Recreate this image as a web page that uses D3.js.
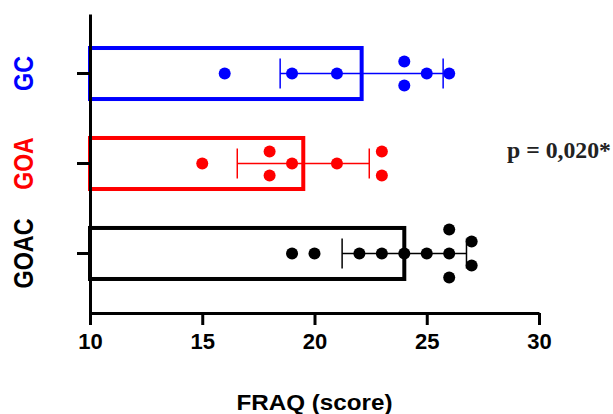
<!DOCTYPE html>
<html>
<head>
<meta charset="utf-8">
<script src="https://cdn.jsdelivr.net/npm/d3@7"></script>
<style>
  body { margin: 0; background: #fff; }
  text { font-family: "Liberation Sans", Arial, sans-serif; font-weight: bold; }
</style>
</head>
<body>
<svg width="613" height="414"></svg>
<script>
const groups = ["GC", "GOA", "GOAC"];
const colors = ["#0000ff", "#ff0000", "#000000"];
const means = [22.1, 19.5, 24.0];
const sds = [3.63, 2.94, 2.77];
const gcScores = [16, 19, 21, 24, 24, 25, 26];
const goaScores = [15, 18, 18, 19, 21, 23, 23];
const goacScores = [19, 20, 22, 23, 24, 25, 26, 26, 26, 27, 27];
const xTicks = [10, 15, 20, 25, 30];
const pLabel = "p = 0,020*";

const scores = [gcScores, goaScores, goacScores];

const svg = d3.select("svg");

const x = d3.scaleLinear().domain([10, 30]).range([90, 539]);
const y = d3
  .scaleBand()
  .domain(groups)
  .range([14, 313])
  .paddingInner(0.433)
  .paddingOuter(0.378);

// bars
groups.forEach((gName, i) => {
  const cy = y(gName) + y.bandwidth() / 2;
  const g = svg.append("g");

  g.append("rect")
    .attr("x", x(10))
    .attr("y", y(gName))
    .attr("width", x(means[i]) - x(10))
    .attr("height", y.bandwidth())
    .attr("fill", "none")
    .attr("stroke", colors[i])
    .attr("stroke-width", 4);

  // error bar (SD)
  const lo = x(means[i] - sds[i]);
  const hi = x(means[i] + sds[i]);
  g.append("line")
    .attr("x1", lo).attr("x2", hi)
    .attr("y1", cy).attr("y2", cy)
    .attr("stroke", colors[i])
    .attr("stroke-width", 1.5);
  [lo, hi].forEach((xx) => {
    g.append("line")
      .attr("x1", xx).attr("x2", xx)
      .attr("y1", cy - 15).attr("y2", cy + 15)
      .attr("stroke", colors[i])
      .attr("stroke-width", 1.5);
  });

  // points, duplicates spread vertically
  const counts = d3.rollup(scores[i], (v) => v.length, (d) => d);
  const seen = new Map();
  const pts = scores[i].map((v) => {
    const k = seen.get(v) || 0;
    seen.set(v, k + 1);
    const n = counts.get(v);
    return { v, off: (k - (n - 1) / 2) * 24 };
  });
  g.selectAll("circle")
    .data(pts)
    .join("circle")
    .attr("cx", (d) => x(d.v))
    .attr("cy", (d) => cy + d.off)
    .attr("r", 6)
    .attr("fill", colors[i]);
});

// x axis
const xAxis = svg
  .append("g")
  .attr("transform", `translate(0, 313)`)
  .call(d3.axisBottom(x).tickValues(xTicks).tickSize(12).tickSizeOuter(0));
xAxis.select(".domain").attr("stroke-width", 3);
xAxis.selectAll(".tick line").attr("stroke-width", 3);
xAxis
  .selectAll(".tick text")
  .attr("y", 36)
  .attr("dy", 0)
  .attr("font-size", 22)
  .attr("font-family", "Liberation Sans, Arial, sans-serif")
  .attr("font-weight", "bold")
  .attr("fill", "#000");

// y axis
const yAxis = svg
  .append("g")
  .attr("transform", `translate(90, 0)`)
  .call(d3.axisLeft(y).tickSize(13).tickSizeOuter(0).tickFormat(""));
yAxis.select(".domain").attr("stroke-width", 3);
yAxis.selectAll(".tick line").attr("stroke-width", 3);

// category labels
groups.forEach((gName, i) => {
  const cy = y(gName) + y.bandwidth() / 2;
  svg
    .append("text")
    .attr("transform", `translate(33, ${cy}) rotate(-90)`)
    .attr("text-anchor", "middle")
    .attr("font-size", 27)
    .attr("textLength", gName.length * 17.5)
    .attr("lengthAdjust", "spacingAndGlyphs")
    .attr("fill", colors[i])
    .text(gName);
});

svg
  .append("text")
  .attr("x", x(20))
  .attr("y", 410)
  .attr("text-anchor", "middle")
  .attr("font-size", 22)
  .attr("textLength", 156)
  .attr("lengthAdjust", "spacingAndGlyphs")
  .text("FRAQ (score)");

svg
  .append("text")
  .attr("x", 507)
  .attr("y", 158)
  .style("font-family", "Liberation Serif, Times New Roman, serif")
  .attr("font-size", 23)
  .attr("textLength", 104)
  .attr("lengthAdjust", "spacingAndGlyphs")
  .attr("fill", "#222")
  .text(pLabel);
</script>
</body>
</html>
